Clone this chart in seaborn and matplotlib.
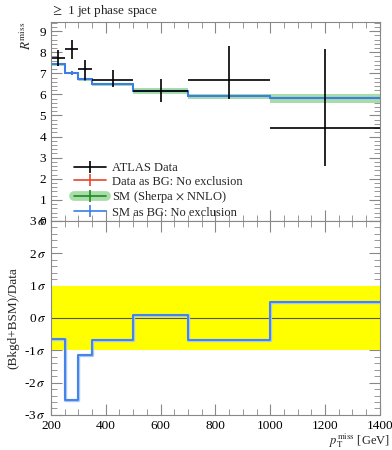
import numpy as np
import pandas as pd
import seaborn as sns
import matplotlib.pyplot as plt
from matplotlib.lines import Line2D
from matplotlib.ticker import MultipleLocator

# ------------------------------- data -------------------------------

edges = [200, 250, 300, 350, 500, 700, 1000, 1400]
data_val = [7.71, 8.13, 7.19, 6.70, 6.16, 6.70, 4.40]
data_up = [0.38, 0.44, 0.42, 0.44, 0.57, 1.58, 3.77]
data_dn = [0.38, 0.43, 0.50, 0.36, 0.52, 0.92, 1.81]
sm_val = [7.42, 7.02, 6.71, 6.47, 6.16, 5.91, 5.81]
sm_band = [0.06, 0.06, 0.06, 0.07, 0.12, 0.12, 0.23]
mc_err = [0.08, 0.08, 0.08, 0.06, 0.06, 0.06, 0.06]
pull_val = [-0.65, -2.55, -1.15, -0.67, 0.10, -0.68, 0.50]

centers = [(a + b) / 2 for a, b in zip(edges[:-1], edges[1:])]
half_w = [(b - a) / 2 for a, b in zip(edges[:-1], edges[1:])]

def steps(vals):
    return pd.DataFrame({"x": edges, "y": list(vals) + [vals[-1]]})

def cross(color, lw=1.2):
    # legend handle: horizontal line with a vertical tick in the middle
    return (Line2D([], [], color=color, lw=lw),
            Line2D([], [], color=color, marker="|", markersize=9, mew=lw, ls="none"))

# ------------------------------------------ style -----------------------------------------

sns.set_style("ticks")
plt.rcParams["font.family"] = ["Liberation Serif", "DejaVu Serif"]
plt.rcParams["mathtext.fontset"] = "stix"
plt.rcParams["font.size"] = 9.5
plt.rcParams["axes.linewidth"] = 0.8
plt.rcParams["axes.edgecolor"] = "#888888"

fig = plt.figure(figsize=(3.92, 4.5), dpi=100)
ax = fig.add_axes([0.13, 0.509, 0.839, 0.442])
ax2 = fig.add_axes([0.13, 0.078, 0.839, 0.431])

blue = "#3a7ee6"
red = "#e8432c"
green = "#1f8a1f"
lightgreen = "#a8dca8"

# ------------------------------------------ top panel -------------------------------------

lo = [v - e for v, e in zip(sm_val, sm_band)] + [sm_val[-1] - sm_band[-1]]
hi = [v + e for v, e in zip(sm_val, sm_band)] + [sm_val[-1] + sm_band[-1]]
ax.fill_between(edges, lo, hi, step="post", color=lightgreen, lw=0)
ax.errorbar(centers, sm_val, yerr=mc_err, fmt="none", ecolor=green, lw=1.2)
sns.lineplot(data=steps(sm_val), x="x", y="y", ax=ax, drawstyle="steps-post",
             color=green, lw=1.2, estimator=None)

ax.errorbar(centers, sm_val, yerr=mc_err, fmt="none", ecolor=red, lw=1.2)
sns.lineplot(data=steps(sm_val), x="x", y="y", ax=ax, drawstyle="steps-post",
             color=red, lw=1.2, estimator=None)
ax.errorbar(centers, sm_val, yerr=mc_err, fmt="none", ecolor=blue, lw=1.2)
sns.lineplot(data=steps(sm_val), x="x", y="y", ax=ax, drawstyle="steps-post",
             color=blue, lw=1.5, estimator=None)

ax.errorbar(centers, data_val, yerr=[data_dn, data_up], xerr=half_w,
            fmt="none", ecolor="black", lw=1.2)

ax.set_xlim(200, 1400)
ax.set_ylim(0, 9.43)
ax.set_yticks(range(0, 10))
ax.yaxis.set_minor_locator(MultipleLocator(0.2))
ax.xaxis.set_major_locator(MultipleLocator(200))
ax.xaxis.set_minor_locator(MultipleLocator(50))
ax.tick_params(which="both", direction="in", top=True, right=True, labelbottom=False,
               colors="#888888", labelcolor="black")
ax.tick_params(which="major", length=8)
ax.tick_params(which="minor", length=4)
ax.set_xlabel("")
ax.set_ylabel(r"$R^{\mathrm{miss}}$", loc="top", labelpad=4)
ax.set_title(r"$\geq$ 1 jet phase space", loc="left", fontsize=9.5, pad=6)

sm_proxy = (Line2D([], [], color=lightgreen, lw=7),) + cross(green)
ax.legend([cross("black"), cross(red), sm_proxy, cross(blue)],
          ["ATLAS Data", "Data as BG: No exclusion", r"SM (Sherpa $\times$ NNLO)",
           "SM as BG: No exclusion"],
          loc="lower left", bbox_to_anchor=(0.035, -0.045), frameon=False,
          fontsize=9, handlelength=2.6, labelspacing=0.12, handletextpad=0.5)

# ----------------------------------------- bottom panel -----------------------------------

ax2.axhspan(-1, 1, color="#ffff00", lw=0)
ax2.axhline(0, color="#555555", lw=0.8)
sns.lineplot(data=steps(pull_val), x="x", y="y", ax=ax2, drawstyle="steps-post",
             color="#a9c6f5", lw=2.4, estimator=None)
sns.lineplot(data=steps(pull_val), x="x", y="y", ax=ax2, drawstyle="steps-post",
             color=blue, lw=1.3, estimator=None)

ax2.set_xlim(200, 1400)
ax2.set_ylim(-3, 3)
ax2.set_yticks(range(-3, 4))
ax2.set_yticklabels([f"{i}" + r"$\,\sigma$" for i in range(-3, 4)])
ax2.yaxis.set_minor_locator(MultipleLocator(0.2))
ax2.xaxis.set_major_locator(MultipleLocator(200))
ax2.xaxis.set_minor_locator(MultipleLocator(50))
ax2.tick_params(which="both", direction="in", top=True, right=True,
                colors="#888888", labelcolor="black")
ax2.tick_params(which="major", length=8)
ax2.tick_params(which="minor", length=4)
ax2.set_ylabel("(Bkgd+BSM)/Data", labelpad=4)
ax2.set_xlabel(r"$p_{\mathrm{T}}^{\mathrm{miss}}$ [GeV]", fontsize=9, ha="right")
ax2.xaxis.set_label_coords(1.03, -0.085)

fig.savefig("out.png", dpi=100)
